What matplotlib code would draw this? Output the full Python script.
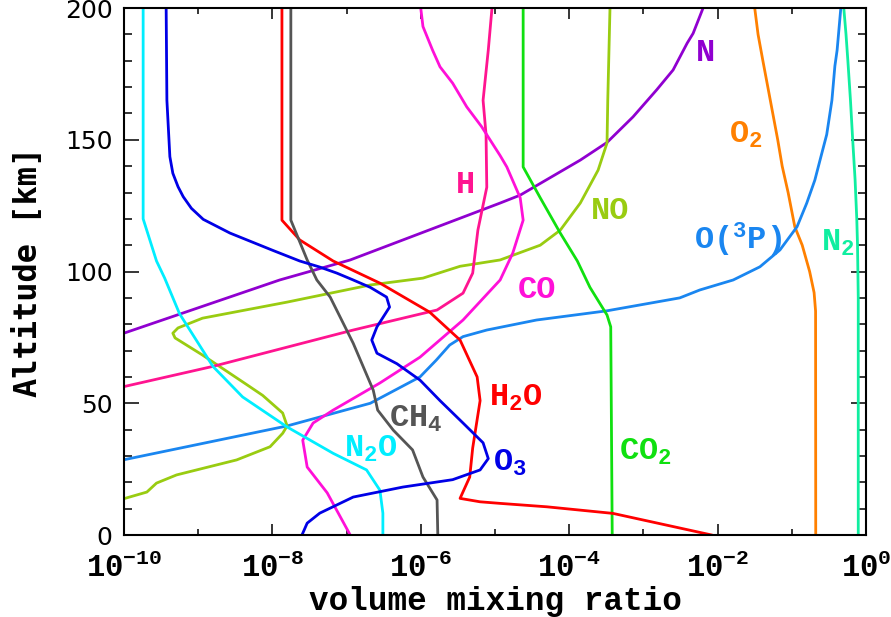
import numpy as np
import matplotlib.pyplot as plt
from matplotlib.ticker import FixedLocator, MultipleLocator, NullFormatter

plt.rcParams['mathtext.fontset'] = 'custom'
plt.rcParams['mathtext.rm'] = 'Liberation Mono:bold'
plt.rcParams['mathtext.it'] = 'Liberation Mono:bold'
plt.rcParams['mathtext.bf'] = 'Liberation Mono:bold'

# altitude [km] and log10(volume mixing ratio)
n2_alt = [0, 90, 100, 110, 120, 135, 150, 165, 180, 190, 200]
n2_log = [-0.105, -0.105, -0.11, -0.115, -0.125, -0.148, -0.18, -0.21, -0.245, -0.27, -0.30]

o2_alt = [0, 85, 92, 100, 110, 117, 130, 140, 150, 165, 180, 190, 200]
o2_log = [-0.678, -0.68, -0.70, -0.76, -0.86, -0.96, -1.05, -1.13, -1.19, -1.29, -1.39, -1.455, -1.50]

o3p_alt = [25, 28.5, 41.4, 50, 60, 66.4, 72.1, 75.3, 77.8, 81.6, 85.1, 90, 93, 96.8, 101.8, 108.2, 117,
           125.9, 134.7, 142.3, 152, 165, 178, 184, 200]
o3p_log = [-10.6, -10.01, -7.80, -6.68, -6.01, -5.79, -5.61, -5.43, -5.11, -4.44, -3.49, -2.51, -2.24, -1.79,
           -1.43, -1.16, -0.93, -0.80, -0.69, -0.62, -0.53, -0.46, -0.42, -0.39, -0.34]

n_alt = [70, 76.5, 96.8, 104.4, 126, 129, 142.3, 149, 158.7, 169, 176.5, 186.7, 190.4, 199, 202]
n_log = [-10.66, -10.01, -7.90, -6.95, -4.93, -4.66, -3.85, -3.49, -3.14, -2.82, -2.60, -2.41, -2.33, -2.21,
         -2.17]

no_alt = [12, 13.7, 16.3, 19.7, 22.8, 28.5, 33.5, 38.6, 41.4, 46.3, 53, 57, 68.3, 74.8, 76.6, 78.6, 82.3,
          88.4, 94.9, 97.5, 102, 104.4, 110, 115.7, 126, 138.5, 148.8, 165, 200]
no_log = [-10.2, -10.01, -9.69, -9.56, -9.29, -8.48, -8.03, -7.86, -7.80, -7.86, -8.13, -8.34, -8.94, -9.31,
          -9.34, -9.27, -8.94, -7.80, -6.68, -5.97, -5.47, -4.93, -4.39, -4.12, -3.85, -3.61, -3.49, -3.48, -3.45]

h_alt = [54, 56, 64, 77.8, 85.4, 91.8, 99.4, 115.7, 132, 152, 165, 184, 200]
h_log = [-10.3, -10.05, -8.80, -6.91, -5.78, -5.43, -5.30, -5.23, -5.11, -5.12, -5.16, -5.09, -5.04]

co_alt = [0, 16, 25.8, 36, 42.5, 47.4, 57.7, 67.5, 81.6, 96.8, 107, 119.5, 128, 139.7, 144, 155, 162.5,
          171.5, 177.7, 184, 193, 200]
co_log = [-6.95, -7.26, -7.53, -7.59, -7.45, -7.18, -6.55, -6.01, -5.43, -4.93, -4.76, -4.62, -4.66, -4.84,
          -4.93, -5.18, -5.38, -5.57, -5.74, -5.84, -5.97, -6.00]

co2_alt = [0, 79, 83.5, 94, 104, 114.6, 128, 139.7, 200]
co2_log = [-3.42, -3.44, -3.49, -3.72, -3.89, -4.12, -4.39, -4.62, -4.62]

h2o_alt = [-2, 0, 8.2, 10.7, 12, 12.6, 13.9, 22, 33, 51, 60, 74, 84.6, 95.6, 104, 112, 119.5, 200]
h2o_log = [-1.83, -2.08, -3.41, -4.30, -4.93, -5.20, -5.47, -5.34, -5.30, -5.20, -5.24, -5.47, -5.88,
           -6.55, -7.18, -7.63, -7.87, -7.87]

ch4_alt = [0, 13.3, 22, 32.3, 39.8, 47.4, 55, 72.8, 90.3, 96.8, 104.4, 119.5, 200]
ch4_log = [-5.77, -5.78, -5.97, -6.11, -6.37, -6.58, -6.64, -6.91, -7.22, -7.40, -7.53, -7.75, -7.75]

n2o_alt = [0, 8.3, 17, 24.7, 31, 41, 52.4, 64, 84, 97.5, 104, 120, 200]
n2o_log = [-6.51, -6.51, -6.55, -6.73, -7.18, -7.80, -8.40, -8.80, -9.25, -9.45, -9.56, -9.74, -9.74]

o3_alt = [0, 4.5, 8.3, 14.4, 18.2, 21, 24.7, 29, 35, 42.5, 51, 58.8, 65, 69, 74, 79, 86.5, 90.3, 94, 96.8,
          99.4, 101.7, 104, 108, 114.6, 119.8, 124, 128.4, 132.2, 137.3, 143.6, 165, 200]
o3_log = [-7.60, -7.53, -7.36, -6.91, -6.24, -5.57, -5.20, -5.09, -5.16, -5.43, -5.74, -6.01, -6.32, -6.59,
          -6.66, -6.59, -6.42, -6.46, -6.68, -6.91, -7.13, -7.36, -7.63, -7.99, -8.57, -8.93, -9.09, -9.20,
          -9.27, -9.34, -9.38, -9.42, -9.43]

species = [
    (n2_alt, n2_log, '#10eea0'),
    (o2_alt, o2_log, '#ff8000'),
    (o3p_alt, o3p_log, '#1a86f0'),
    (n_alt, n_log, '#9000d0'),
    (no_alt, no_log, '#99cc11'),
    (h_alt, h_log, '#ff1490'),
    (co_alt, co_log, '#ff10d8'),
    (co2_alt, co2_log, '#10e010'),
    (h2o_alt, h2o_log, '#ff0000'),
    (ch4_alt, ch4_log, '#555555'),
    (n2o_alt, n2o_log, '#00eeff'),
    (o3_alt, o3_log, '#0000e6'),
]

# label text, x (vmr), altitude, colour
labels = [
    ('N', 6.8e-3, 183, '#9000d0'),
    ('O$_2$', 2.4e-2, 152, '#ff8000'),
    ('H', 4.0e-6, 133, '#ff1490'),
    ('NO', 3.6e-4, 123, '#99cc11'),
    ('O($^3$P)', 1.9e-2, 112, '#1a86f0'),
    ('N$_2$', 0.42, 111, '#10eea0'),
    ('CO', 3.7e-5, 93, '#ff10d8'),
    ('H$_2$O', 1.9e-5, 52, '#ff0000'),
    ('CH$_4$', 8.6e-7, 44, '#555555'),
    ('N$_2$O', 2.1e-7, 32.5, '#00eeff'),
    ('O$_3$', 1.6e-5, 27.5, '#0000e6'),
    ('CO$_2$', 1.05e-3, 31.5, '#10e010'),
]

xticks = [1e-10, 1e-8, 1e-6, 1e-4, 1e-2, 1]
xtick_labels = ['$10^{-10}$', '$10^{-8}$', '$10^{-6}$', '$10^{-4}$', '$10^{-2}$', '$10^{0}$']

fig = plt.figure(figsize=(8.91, 6.17), dpi=100)
ax = fig.add_axes([0.139, 0.1329, 0.833, 0.854])

for alt, lg, col in species:
    ax.plot(10 ** np.array(lg), alt, color=col, lw=2)

for txt, x, y, col in labels:
    ax.text(x, y, txt, color=col, ha='center', va='center', fontsize=23,
            family='Liberation Mono', weight='bold')

ax.set_xscale('log')
ax.set_xlim(1e-10, 1)
ax.set_ylim(0, 200)
ax.xaxis.set_major_locator(FixedLocator(xticks))
ax.xaxis.set_minor_locator(FixedLocator([1e-9, 1e-7, 1e-5, 1e-3, 1e-1]))
ax.xaxis.set_minor_formatter(NullFormatter())
ax.set_xticklabels(xtick_labels, family='Liberation Mono', weight='bold', fontsize=22)
ax.yaxis.set_major_locator(MultipleLocator(50))
ax.yaxis.set_minor_locator(MultipleLocator(10))
for lab in ax.get_yticklabels():
    lab.set_family('DejaVu Sans')

ax.tick_params(which='both', direction='in', top=True, right=True, width=1.1)
ax.tick_params(axis='x', which='major', length=8, pad=13)
ax.tick_params(axis='x', which='minor', length=4.5)
ax.tick_params(axis='y', which='major', length=11, pad=8, labelsize=18)
ax.tick_params(axis='y', which='minor', length=6)
for sp in ax.spines.values():
    sp.set_linewidth(1.5)

ax.set_xlabel('volume mixing ratio', family='Liberation Mono', weight='bold', fontsize=23.5, labelpad=2)
ax.set_ylabel('Altitude [km]', family='DejaVu Sans Mono', weight='bold', fontsize=23, labelpad=16)

fig.savefig('out.png', dpi=100)
